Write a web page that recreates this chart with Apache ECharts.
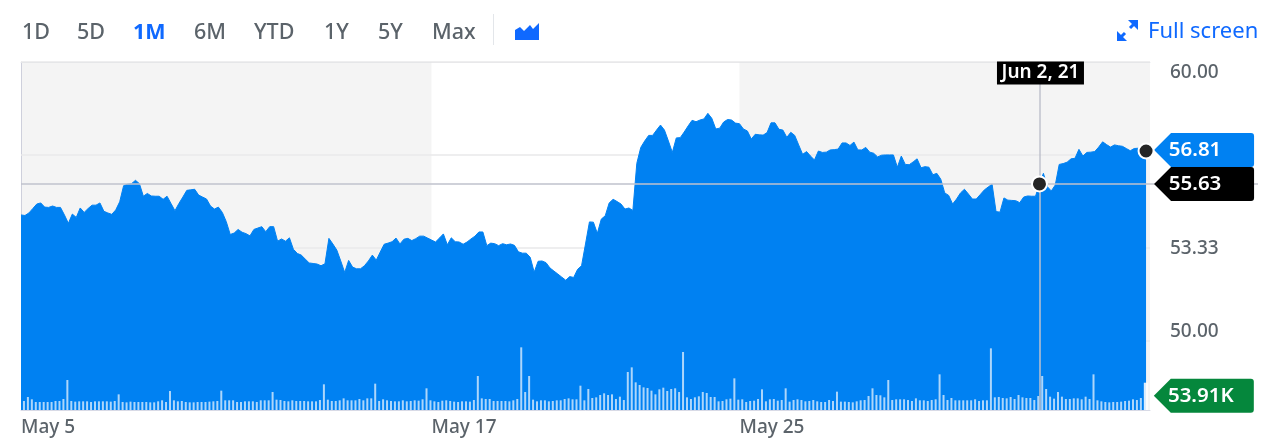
<!DOCTYPE html>
<html>
<head>
<meta charset="utf-8">
<title>1M chart</title>
<style>
  html, body { margin: 0; padding: 0; background: #fff; }
  #chart { width: 1266px; height: 443px; }
</style>
<script src="https://cdn.jsdelivr.net/npm/echarts@6/dist/echarts.min.js"></script>
</head>
<body>
<div id="chart"></div>
<script>
// one row = one trading day, 13 half hour points
var prices = [
  54.52,54.50,54.59,54.75,54.91,54.95,54.80,54.79,54.84,54.79,54.79,54.52,54.22,
  54.55,54.43,54.77,54.61,54.75,54.87,54.87,54.95,54.65,54.59,54.54,54.70,54.99,
  55.57,55.62,55.64,55.76,55.64,55.19,55.29,55.20,55.19,55.19,55.08,55.19,54.93,
  54.67,54.93,55.16,55.40,55.42,55.44,55.23,55.16,55.09,54.84,54.73,54.80,54.61,
  54.28,53.82,53.87,54.00,53.90,53.85,53.77,54.00,54.05,54.10,53.92,54.10,54.10,
  53.58,53.66,53.58,53.70,53.29,53.14,53.08,52.94,52.80,52.78,52.76,52.70,52.77,
  53.68,53.48,53.26,52.87,52.46,52.89,52.65,52.59,52.59,52.70,52.87,53.08,52.90,
  53.19,53.47,53.51,53.56,53.69,53.48,53.65,53.68,53.60,53.67,53.76,53.76,53.69,
  53.62,53.55,53.69,53.84,53.45,53.70,53.56,53.55,53.47,53.55,53.66,53.76,53.91,
  53.91,53.42,53.51,53.49,53.42,53.49,53.45,53.48,53.43,53.20,53.15,53.15,53.00,
  52.47,52.86,52.87,52.81,52.62,52.51,52.40,52.29,52.18,52.31,52.28,52.57,52.70,
  53.48,54.27,54.26,53.86,54.37,54.49,54.95,55.08,55.00,54.91,54.73,54.77,54.68,
  56.37,56.94,57.17,57.37,57.37,57.56,57.74,57.56,57.17,56.76,57.28,57.29,57.49,
  57.71,57.91,57.86,57.92,57.96,58.16,57.98,57.60,57.63,57.85,57.94,57.92,57.81,
  57.79,57.60,57.53,57.24,57.41,57.39,57.38,57.47,57.82,57.82,57.59,57.56,57.30,
  57.48,57.37,57.03,56.69,56.79,56.63,56.49,56.81,56.76,56.77,56.85,56.86,56.88,
  57.10,57.10,57.01,57.13,56.85,56.85,56.94,56.77,56.73,56.60,56.66,56.67,56.67,
  56.67,56.23,56.63,56.33,56.32,56.42,56.53,56.21,56.25,56.23,55.96,56.01,55.80,
  55.31,55.22,54.91,55.09,55.31,55.44,55.27,55.09,55.09,55.25,55.41,55.52,55.62,
  54.64,54.62,55.13,55.05,55.04,55.03,54.96,55.16,55.20,55.19,55.19,55.63,56.01,
  55.53,55.38,55.59,56.33,56.36,56.41,56.53,56.55,56.87,56.63,56.76,56.77,56.79,
  56.95,57.14,57.04,56.95,57.03,57.00,56.98,56.90,56.82,56.90,56.91,56.91,56.81
];

// volume in K
var volumes = [
  17.8,25.7,21.1,15.8,15.8,15.8,15.8,15.8,17.8,17.8,21.7,59.2,17.8,
  16.5,17.1,17.1,17.1,15.8,17.1,17.1,17.1,17.1,16.5,17.8,30.9,15.8,
  15.1,16.5,15.8,15.8,15.8,15.8,15.1,15.1,17.1,19.1,15.8,37.5,19.1,
  17.1,17.8,15.8,15.1,15.1,15.8,15.8,15.8,16.5,17.1,17.8,38.2,19.1,
  19.1,19.1,15.8,15.8,17.1,17.1,17.1,15.8,19.1,19.1,19.1,35.5,20.4,
  19.7,17.8,17.1,19.1,17.8,17.8,17.8,17.1,17.1,17.1,19.7,50.7,20.4,
  17.8,17.8,19.1,23.0,19.1,19.1,19.1,21.7,19.1,23.0,23.0,52.0,17.8,
  21.1,19.1,17.8,17.1,17.1,19.1,17.1,17.8,19.1,18.4,21.1,42.8,19.1,
  17.1,15.8,18.4,19.1,17.8,16.5,15.8,17.1,17.1,16.5,19.7,67.1,23.0,
  21.7,21.7,17.8,17.8,17.8,17.8,17.1,19.1,21.7,123.7,35.5,67.1,20.4,
  17.1,19.1,19.1,17.1,17.8,19.1,19.1,21.7,23.0,21.1,21.1,48.0,19.1,
  41.5,23.7,25.0,29.6,32.9,29.6,30.9,21.7,26.3,19.7,75.0,84.2,54.6,
  49.4,44.7,43.4,38.2,30.9,40.8,44.1,37.5,41.5,42.8,35.5,114.5,25.0,
  21.7,25.0,27.0,35.5,33.6,25.7,25.7,17.1,17.8,21.1,22.4,62.5,20.4,
  21.1,15.8,17.8,18.4,21.7,40.8,17.1,21.1,21.7,18.4,19.7,42.8,16.5,
  19.7,21.1,19.7,17.1,17.8,19.7,17.1,15.8,15.8,19.7,17.8,36.2,16.5,
  16.5,15.8,15.1,17.1,19.1,19.7,27.6,42.8,29.6,29.0,25.0,59.2,19.7,
  21.1,21.1,21.1,19.7,17.8,23.0,19.1,19.1,17.8,19.7,21.1,70.4,29.6,
  19.7,23.7,19.1,19.1,19.1,19.1,19.1,21.1,17.8,19.1,19.1,121.7,25.0,
  25.7,23.7,23.0,25.7,21.7,29.6,25.0,23.7,23.7,19.7,27.6,67.1,41.5,
  26.3,22.4,35.5,26.3,21.7,21.7,23.0,23.0,21.1,26.3,21.7,70.4,19.1,
  17.1,15.8,15.1,15.8,15.8,16.5,17.8,18.4,21.1,19.7,23.7
];
var latestVolume = 53.91;

var dayTicks = [0, 104, 182];
var dayLabels = ['May 5', 'May 17', 'May 25'];
var shadedRanges = [[0, 104], [182, 286]];

var priceTicks = [50, 53.33, 56.67, 60];
var priceTickLabels = ['50.00', '53.33', '', '60.00'];

var hoverIndex = 258;
var hoverLabel = 'Jun 2, 21';
var hoverPrice = 55.63;
var latestPrice = 56.81;
var lastIndex = prices.length - 1;

var rangeLabels = ['1D', '5D', '1M', '6M', 'YTD', '1Y', '5Y', 'Max'];
var rangeLabelX = [22, 77, 133, 194, 254, 324, 378, 432];
var activeRange = '1M';

var FONT = '"Noto Sans", sans-serif';
var BLUE = '#0081f2';
var LINK = '#0f69ff';
var GREY_TEXT = '#5b636a';
var TAG = 'path://M0 17L17 0H97Q100 0 100 3V31Q100 34 97 34H17Z';

function zip(list, start) {
  return list.map(function (v, i) { return [i + (start || 0), v]; });
}

// header row
var headerItems = rangeLabels.map(function (t, i) {
  var on = t === activeRange;
  return {
    type: 'text', x: rangeLabelX[i], y: 33,
    style: {
      text: t, font: (on ? 'bold ' : '500 ') + '21.5px ' + FONT,
      fill: on ? LINK : GREY_TEXT, verticalAlign: 'middle'
    }
  };
});
headerItems.push(
  { type: 'line', shape: { x1: 493.5, y1: 14, x2: 493.5, y2: 45 }, style: { stroke: '#e3e6ea', lineWidth: 1 } },
  { type: 'polygon', shape: { points: [[515, 40], [515, 30], [520, 27], [524, 31], [530, 25], [533, 29], [539, 23], [539, 40]] }, style: { fill: LINK } },
  { type: 'polygon', shape: { points: [[1117, 41], [1117, 31], [1127, 41]] }, style: { fill: LINK } },
  { type: 'polygon', shape: { points: [[1138, 20], [1138, 30], [1128, 20]] }, style: { fill: LINK } },
  { type: 'line', shape: { x1: 1120, y1: 38, x2: 1125, y2: 33 }, style: { stroke: LINK, lineWidth: 3 } },
  { type: 'line', shape: { x1: 1130, y1: 28, x2: 1135, y2: 23 }, style: { stroke: LINK, lineWidth: 3 } },
  { type: 'text', x: 1148, y: 32, style: { text: 'Full screen', font: '22px ' + FONT, fill: LINK, verticalAlign: 'middle' } },
  // crosshair runs on behind the price tags
  { type: 'line', z: -1, shape: { x1: 1150, y1: 184, x2: 1258, y2: 184 }, style: { stroke: '#c3c6cf', lineWidth: 1.5 } }
);

var chart = echarts.init(document.getElementById('chart'), null, { renderer: 'canvas' });

chart.setOption({
  animation: false,
  textStyle: { fontFamily: FONT },
  graphic: headerItems,
  grid: { left: 21, right: 116, top: 62, bottom: 33 },
  xAxis: [{
    type: 'value', min: 0, max: 286,
    axisLine: { onZero: false, lineStyle: { color: '#d8dae6' } },
    axisTick: { show: false },
    splitLine: { show: false },
    axisLabel: {
      customValues: dayTicks, color: GREY_TEXT, fontSize: 19, fontWeight: 500, margin: 8, align: 'left',
      formatter: function (v) { return dayLabels[dayTicks.indexOf(v)]; }
    }
  }, {
    // volume bars sit a bit to the right of the price points
    type: 'value', position: 'top', min: -1, max: 285.06,
    axisLine: { onZero: false, lineStyle: { color: '#e6e7ec' } },
    axisTick: { show: false }, axisLabel: { show: false }, splitLine: { show: false }
  }],
  yAxis: [{
    type: 'value', position: 'right', min: 47.53, max: 60,
    axisLine: { show: true, lineStyle: { color: '#d8dae6' } },
    axisTick: { show: false },
    splitLine: { show: false },
    axisLabel: {
      customValues: priceTicks, margin: 20,
      formatter: function (v) {
        var t = priceTickLabels[priceTicks.indexOf(v)];
        if (!t) return '';
        if (v === 60) return '{low|' + t + '}';
        if (v === 50) return '{high|' + t + '}';
        return '{mid|' + t + '}';
      },
      rich: {
        low: { color: GREY_TEXT, fontSize: 19, fontWeight: 500, padding: [21, 0, 0, 0] },
        high: { color: GREY_TEXT, fontSize: 19, fontWeight: 500, padding: [0, 0, 19, 0] },
        mid: { color: GREY_TEXT, fontSize: 19, fontWeight: 500 }
      }
    }
  }, {
    type: 'value', min: 0, max: 687, show: false
  }],
  series: [{
    // grey day bands and grid lines, kept under the price area
    type: 'line', data: [], z: 1, silent: true,
    markArea: {
      silent: true, z: 1,
      itemStyle: { color: 'rgba(0,0,0,0.045)' },
      data: shadedRanges.map(function (r) { return [{ xAxis: r[0] }, { xAxis: r[1] }]; })
    },
    markLine: {
      silent: true, z: 1, symbol: 'none', label: { show: false },
      lineStyle: { color: '#e8e8ea', type: 'solid', width: 1.5 },
      data: priceTicks.map(function (v) { return { yAxis: v }; })
    }
  }, {
    name: 'price', type: 'line', data: zip(prices), z: 3,
    showSymbol: false, silent: true,
    lineStyle: { color: BLUE, width: 1 },
    itemStyle: { color: BLUE },
    areaStyle: { color: BLUE, opacity: 1, origin: 'start' },
    markLine: {
      silent: true, symbol: 'none', label: { show: false },
      lineStyle: { color: '#bfc2cc', type: 'solid', width: 1.5 },
      data: [{ yAxis: hoverPrice }, { xAxis: hoverIndex }]
    },
    markPoint: {
      silent: true,
      data: [{
        coord: [lastIndex, latestPrice], symbol: TAG, symbolSize: [100, 34], symbolOffset: [58, -1],
        itemStyle: { color: BLUE },
        label: { show: true, formatter: latestPrice.toFixed(2), color: '#fff', fontSize: 20.5, fontWeight: 600, offset: [-9, 0] }
      }, {
        coord: [lastIndex, hoverPrice], symbol: TAG, symbolSize: [100, 34], symbolOffset: [58, 0],
        itemStyle: { color: '#000' },
        label: { show: true, formatter: hoverPrice.toFixed(2), color: '#fff', fontSize: 20.5, fontWeight: 600, offset: [-9, 0] }
      }, {
        coord: [hoverIndex, 60], symbol: 'rect', symbolSize: [87, 23], symbolOffset: [1, 11],
        itemStyle: { color: '#000' },
        label: { show: true, formatter: hoverLabel, color: '#fff', fontSize: 19, fontWeight: 600 }
      }, {
        coord: [hoverIndex, hoverPrice], symbol: 'circle', symbolSize: 15,
        itemStyle: { color: '#252525', borderColor: '#fff', borderWidth: 2 }, label: { show: false }
      }, {
        coord: [lastIndex, latestPrice], symbol: 'circle', symbolSize: 15,
        itemStyle: { color: '#252525', borderColor: '#fff', borderWidth: 2 }, label: { show: false }
      }]
    }
  }, {
    name: 'volume', type: 'bar', xAxisIndex: 1, yAxisIndex: 1, z: 4, silent: true,
    data: zip(volumes), barWidth: 2,
    itemStyle: { color: 'rgba(255,255,255,0.68)' }
  }, {
    name: 'latest volume', type: 'bar', xAxisIndex: 1, yAxisIndex: 1, z: 4, silent: true,
    data: [[volumes.length, latestVolume]], barWidth: 4, barGap: '-100%',
    itemStyle: { color: 'rgba(255,255,255,0.85)' },
    markPoint: {
      silent: true,
      data: [{
        coord: [volumes.length, latestVolume], symbol: TAG, symbolSize: [100, 34], symbolOffset: [58, 13],
        itemStyle: { color: '#05873c' },
        label: { show: true, formatter: latestVolume.toFixed(2) + 'K', color: '#fff', fontSize: 20.5, fontWeight: 600, offset: [-3, 0] }
      }]
    }
  }]
});
</script>
</body>
</html>
